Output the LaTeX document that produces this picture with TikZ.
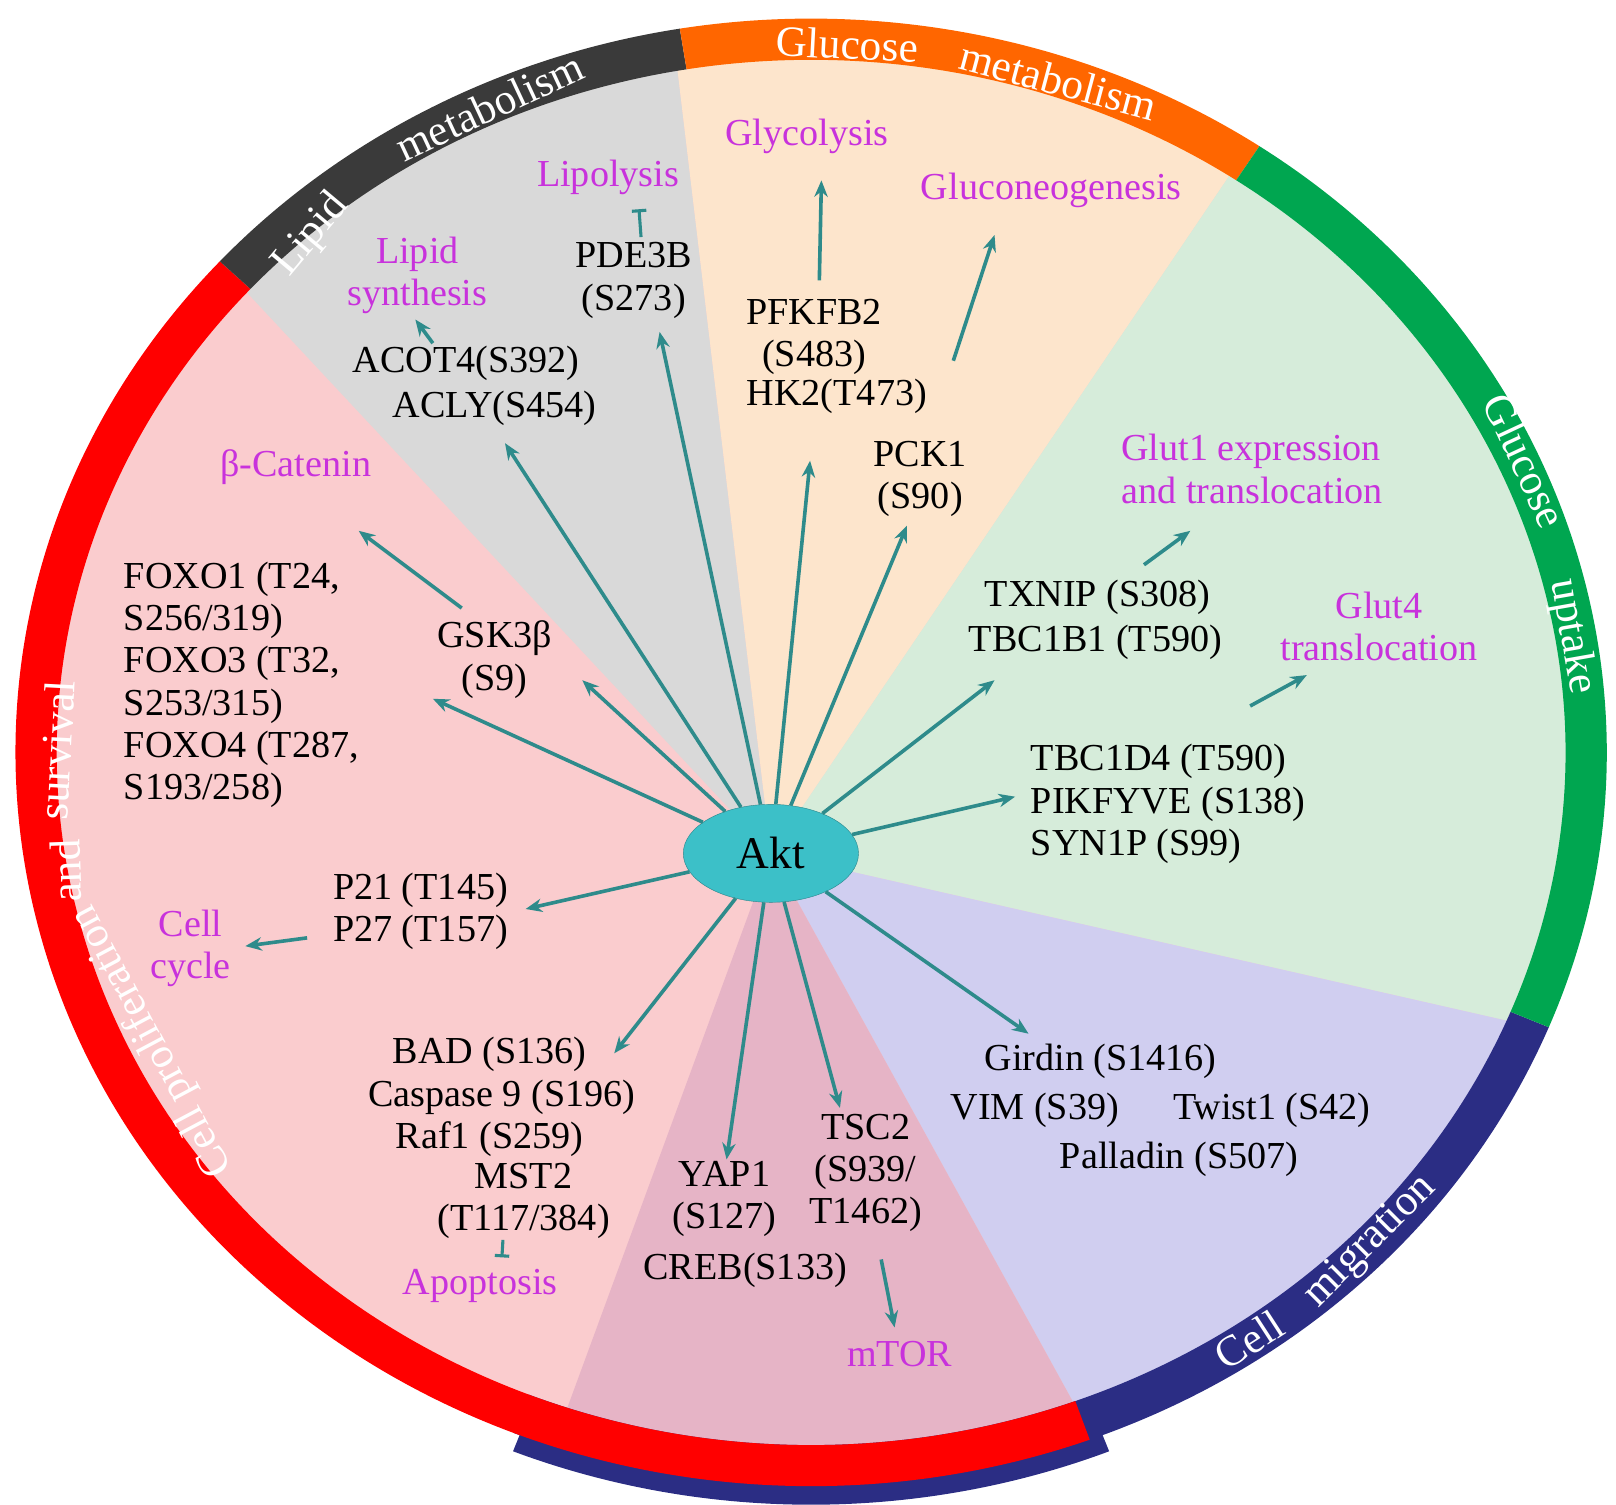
\documentclass[tikz,border=0pt]{standalone}
\usepackage{fontspec}
\setmainfont{Liberation Serif}
\usetikzlibrary{arrows.meta,shapes.geometric}
\definecolor{pinkc}{RGB}{250,204,206}
\definecolor{grayc}{RGB}{217,217,217}
\definecolor{orangec}{RGB}{253,229,204}
\definecolor{greenc}{RGB}{214,236,218}
\definecolor{purplec}{RGB}{208,206,240}
\definecolor{mauvec}{RGB}{230,180,198}
\definecolor{rdark}{RGB}{58,58,58}
\definecolor{rorange}{RGB}{255,102,0}
\definecolor{rgreen}{RGB}{0,166,80}
\definecolor{rnavy}{RGB}{43,45,132}
\definecolor{rred}{RGB}{255,0,0}
\definecolor{magc}{RGB}{200,50,220}
\definecolor{arrc}{RGB}{46,139,139}
\definecolor{aktc}{RGB}{60,192,200}
\newcommand\ringseg[4]{\fill[#1] ([shift={(#3:772 and 712)}]#2) arc[start angle=#3,end angle=#4,x radius=772,y radius=712] -- ([shift={(#4:732 and 672)}]#2) arc[start angle=#4,end angle=#3,x radius=732,y radius=672] -- cycle;}
\begin{document}
\begin{tikzpicture}[x=1pt,y=-1pt,
 lbl/.style={font=\fontsize{37}{41}\selectfont, align=center, inner sep=0},
 mag/.style={lbl,text=magc},
 arr/.style={draw=arrc, line width=3.5pt, -{Stealth[length=16pt,width=13pt]}},
 tbar/.style={draw=arrc, line width=3pt, -{Bar[width=14pt]}},
 ring/.style={font=\fontsize{42}{46}\selectfont, text=white, inner sep=0}]
\useasboundingbox (0,0) rectangle (1568,1460);
\coordinate (C) at (787,730);
\coordinate (CN) at (787,748);
\coordinate (A) at (748,828);
\begin{scope}
\clip (C) ellipse [x radius=735, y radius=675];
\fill[pinkc] (0,0) rectangle (1568,1460);
\fill[grayc] (A) -- (8,36) -- (616,-279) -- cycle;
\fill[orangec] (A) -- (616,-279) -- (1411,-152) -- cycle;
\fill[greenc] (A) -- (1411,-152) -- (1800,-152) -- (1786,1064) -- cycle;
\fill[purplec] (A) -- (1786,1064) -- (1800,1600) -- (1171,1596) -- cycle;
\fill[mauvec] (A) -- (1171,1596) -- (466,1596) -- cycle;
\end{scope}
\ringseg{rnavy}{CN}{112}{68}
\ringseg{rnavy}{C}{112}{22}
\ringseg{rred}{C}{-138}{-290.5}
\ringseg{rdark}{C}{-99.5}{-138}
\ringseg{rorange}{C}{-55.7}{-99.5}
\ringseg{rgreen}{C}{22}{-55.7}
% ring labels
\node[ring,rotate=50] (r1) at (302,228) {Lipid};
\node[ring,rotate=25] (r2) at (475,103) {metabolism};
\node[ring,rotate=-3] (r3) at (822,43) {Glucose};
\node[ring,rotate=-15] (r4) at (1027,78) {metabolism};
\node[ring,rotate=-65] (r5) at (1480,447) {Glucose};
\node[ring,rotate=-80] (r6) at (1525,618) {uptake};
\node[ring,rotate=33] (r7) at (1212,1300) {Cell};
\node[ring,rotate=45] (r8) at (1330,1205) {migration};
\node[ring,rotate=118] (r9) at (148,1010) {Cell proliferation};
\node[ring,rotate=92] (r10) at (64,845) {and};
\node[ring,rotate=87] (r11) at (55,728) {survival};
% Akt
\node[ellipse, fill=aktc, draw=aktc!70!black, minimum width=170pt, minimum height=95pt, font=\fontsize{44}{48}\selectfont] (akt) at (748,828) {Akt};
% labels
\node[lbl] (pde) at (615,272) {PDE3B\\(S273)};
\node[lbl] (acot) at (452,353) {ACOT4(S392)};
\node[lbl] (acly) at (480,396) {ACLY(S454)};
\node[mag] (lsyn) at (405,267) {Lipid\\synthesis};
\node[mag] (lipo) at (590,172) {Lipolysis};
\node[mag] (glyc) at (783,132) {Glycolysis};
\node[mag] (gluc) at (1020,185) {Gluconeogenesis};
\node[lbl] (pfk) at (790,327) {PFKFB2\\(S483)};
\node[lbl] (hk2) at (812,385) {HK2(T473)};
\node[lbl] (pck) at (893,465) {PCK1\\(S90)};
\node[mag,align=left] (glut1) at (1215,455) {Glut1 expression\\and translocation};
\node[mag] (glut4) at (1338,608) {Glut4\\translocation};
\node[lbl] (txn) at (1065,580) {TXNIP (S308)};
\node[lbl] (tbc1) at (1063,623) {TBC1B1 (T590)};
\node[lbl,align=left,anchor=west] (tbc4) at (1000,780) {TBC1D4 (T590)\\PIKFYVE (S138)\\SYN1P (S99)};
\node[mag] (bcat) at (287,453) {β-Catenin};
\node[lbl,align=left,anchor=north west] (foxo) at (120,545) {FOXO1 (T24,\\S256/319)\\FOXO3 (T32,\\S253/315)\\FOXO4 (T287,\\S193/258)};
\node[lbl] (gsk) at (480,640) {GSK3β\\(S9)};
\node[lbl] (p21) at (408,884) {P21 (T145)\\P27 (T157)};
\node[mag] (cyc) at (185,920) {Cell\\cycle};
\node[lbl] (bad) at (475,1023) {BAD (S136)};
\node[lbl] (casp) at (487,1065) {Caspase 9 (S196)};
\node[lbl] (raf) at (475,1105) {Raf1 (S259)};
\node[lbl] (mst) at (508,1165) {MST2\\(T117/384)};
\node[mag] (apo) at (466,1248) {Apoptosis};
\node[lbl] (yap) at (703,1163) {YAP1\\(S127)};
\node[lbl] (creb) at (723,1233) {CREB(S133)};
\node[lbl] (tsc) at (840,1138) {TSC2\\(S939/\\T1462)};
\node[mag] (mtor) at (873,1314) {mTOR};
\node[lbl] (gird) at (1068,1030) {Girdin (S1416)};
\node[lbl] (vim) at (1004,1077) {VIM (S39)};
\node[lbl] (twist) at (1234,1077) {Twist1 (S42)};
\node[lbl] (pall) at (1144,1125) {Palladin (S507)};
% arrow end points
\coordinate (t1) at (640,322);
\coordinate (t2) at (490,430);
\coordinate (t3) at (565,660);
\coordinate (t4) at (420,678);
\coordinate (t5) at (786,447);
\coordinate (t6) at (880,510);
\coordinate (t7) at (965,660);
\coordinate (t8) at (985,773);
\coordinate (t9) at (510,882);
\coordinate (t10) at (596,1022);
\coordinate (t11) at (705,1125);
\coordinate (t12) at (815,1075);
\coordinate (t13) at (998,1003);
\coordinate (s1) at (448,590); \coordinate (e1) at (348,515);
\coordinate (s2) at (795,272); \coordinate (e2) at (797,175);
\coordinate (s3) at (925,350); \coordinate (e3) at (965,228);
\coordinate (s4) at (420,333); \coordinate (e4) at (403,310);
\coordinate (s5) at (1110,548); \coordinate (e5) at (1155,515);
\coordinate (s6) at (1213,685); \coordinate (e6) at (1268,655);
\coordinate (s7) at (298,910); \coordinate (e7) at (238,918);
\coordinate (s8) at (855,1222); \coordinate (e8) at (868,1288);
\coordinate (s9) at (622,230); \coordinate (e9) at (620,203);
\coordinate (s10) at (488,1203); \coordinate (e10) at (487,1220);
\foreach \t in {t1,t2,t3,t4,t5,t6,t7,t8,t9,t10,t11,t12,t13}
 {\draw[arr] (akt) -- (\t);}
\foreach \i in {1,...,8} {\draw[arr] (s\i) -- (e\i);}
\draw[tbar] (s9) -- (e9);
\draw[tbar] (s10) -- (e10);
\end{tikzpicture}
\end{document}
